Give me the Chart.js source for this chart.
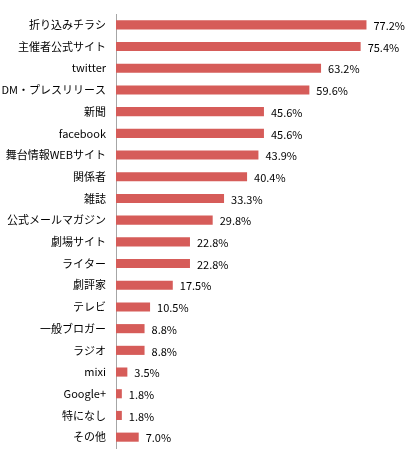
<!DOCTYPE html>
<html>
<head>
<meta charset="utf-8">
<script src="https://cdn.jsdelivr.net/npm/chart.js@4/dist/chart.umd.min.js"></script>
<style>
html,body{margin:0;padding:0;background:#fff;}
#wrap{width:414px;height:453px;position:relative;}
</style>
</head>
<body>
<div id="wrap"><canvas id="chart"></canvas></div>
<script>
var categories = ['折り込みチラシ','主催者公式サイト','twitter','DM・プレスリリース','新聞','facebook','舞台情報WEBサイト','関係者','雑誌','公式メールマガジン','劇場サイト','ライター','劇評家','テレビ','一般ブロガー','ラジオ','mixi','Google+','特になし','その他'];
var values = [77.2,75.4,63.2,59.6,45.6,45.6,43.9,40.4,33.3,29.8,22.8,22.8,17.5,10.5,8.8,8.8,3.5,1.8,1.8,7.0];

// value labels to the right of each bar
var valueLabels = {
    id: 'valueLabels',
    afterDatasetsDraw: function(chart){
        var ctx = chart.ctx;
        var meta = chart.getDatasetMeta(0);
        ctx.save();
        ctx.font = '11px "Noto Sans CJK JP", sans-serif';
        ctx.fillStyle = '#000';
        ctx.textAlign = 'left';
        ctx.textBaseline = 'middle';
        for(var i=0; i<meta.data.length; i++){
            var bar = meta.data[i];
            ctx.fillText(values[i].toFixed(1) + '%', bar.x + 7, bar.y + 1);
        }
        ctx.restore();
    }
};

new Chart(document.getElementById('chart').getContext('2d'), {
    type: 'bar',
    data: {
        labels: categories,
        datasets: [{
            data: values,
            backgroundColor: '#d65c59',
            barPercentage: 0.42,
            categoryPercentage: 1.0
        }]
    },
    options: {
        indexAxis: 'y',
        responsive: true,
        maintainAspectRatio: false,
        animation: false,
        layout: {padding: {top: 0, bottom: 0, left: 0, right: 6}},
        plugins: {legend: {display: false}, tooltip: {enabled: false}},
        scales: {
            x: {display: false, min: 0, max: 90},
            y: {
                grid: {display: false, drawTicks: false},
                border: {display: true, color: '#a6a6a6', width: 1},
                ticks: {
                    color: '#000',
                    padding: 10,
                    font: {family: '"Noto Sans CJK JP", sans-serif', size: 11}
                },
                afterFit: function(scale){
                    scale.width = 116;
                    scale.paddingTop = 14;
                    scale.paddingBottom = 5;
                }
            }
        }
    },
    plugins: [valueLabels]
});
</script>
</body>
</html>
